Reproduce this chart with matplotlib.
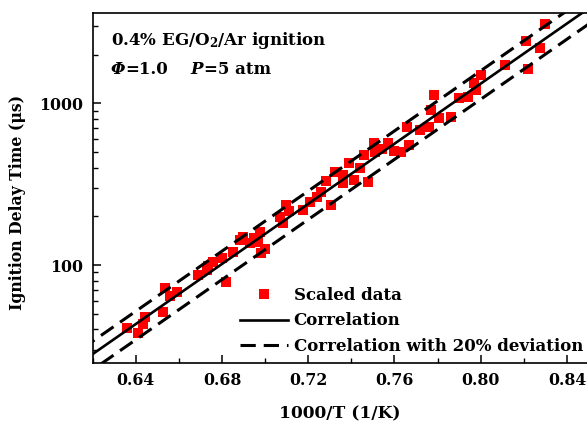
import matplotlib
matplotlib.use("Agg")
import matplotlib.pyplot as plt
import numpy as np
from matplotlib.ticker import FixedLocator, NullFormatter, LogLocator

# ---------------- data ----------------
inv_T = [0.6358, 0.6412, 0.6435, 0.6443, 0.6525, 0.6535, 0.6559, 0.6590,
         0.6690, 0.6728, 0.6736, 0.6760, 0.6798, 0.6820, 0.6851, 0.6882,
         0.6898, 0.6928, 0.6950, 0.6967, 0.6975, 0.6983, 0.7000, 0.7067,
         0.7083, 0.7098, 0.7110, 0.7175, 0.7206, 0.7240, 0.7260, 0.7283,
         0.7306, 0.7322, 0.7360, 0.7360, 0.7391, 0.7414, 0.7440, 0.7460,
         0.7476, 0.7507, 0.7511, 0.7540, 0.7568, 0.7600, 0.7630, 0.7660,
         0.7668, 0.7720, 0.7761, 0.7769, 0.7784, 0.7807, 0.7861, 0.7900,
         0.7940, 0.7969, 0.7977, 0.8000, 0.8113, 0.8209, 0.8220, 0.8274,
         0.8296]
tau_us = [41, 38, 43, 48, 51, 72, 64, 68,
          87, 93, 98, 105, 110, 79, 121, 143,
          150, 136, 146, 139, 161, 118, 125, 199,
          181, 235, 215, 219, 247, 262, 284, 330,
          235, 378, 361, 320, 426, 336, 400, 479,
          327, 566, 501, 520, 566, 504, 501, 716,
          552, 684, 716, 910, 1125, 807, 826, 1074,
          1100, 1330, 1208, 1497, 1727, 2438, 1622, 2188,
          3090]

# correlation line end points (1000/T, tau in us)
corr_x = [0.615, 0.855]
corr_tau = [25.3, 4295.0]
deviation = 0.20

xticks = [0.64, 0.68, 0.72, 0.76, 0.80, 0.84]
xtick_labels = ["0.64", "0.68", "0.72", "0.76", "0.80", "0.84"]
yticks = [100, 1000]
ytick_labels = ["100", "1000"]

# ---------------- style ----------------
FONT = "DejaVu Serif"
plt.rcParams["font.family"] = [FONT, "DejaVu Sans"]
plt.rcParams["font.weight"] = "bold"
plt.rcParams["mathtext.fontset"] = "custom"
plt.rcParams["mathtext.rm"] = FONT + ":bold"
plt.rcParams["mathtext.it"] = FONT + ":italic:bold"
plt.rcParams["mathtext.bf"] = FONT + ":bold"

W, H = 587, 423
fig = plt.figure(figsize=(W / 100, H / 100), dpi=100)
fig.patch.set_facecolor("white")

left, right, top, bottom = 92.7, 588.5, 13.0, 362.7
ax = fig.add_axes([left / W, 1 - bottom / H, (right - left) / W, (bottom - top) / H])
ax.set_yscale("log")
ax.set_xlim(0.62, 0.85)
ax.set_ylim(24.9, 3620)

ax.plot(inv_T, tau_us, linestyle="none", marker="s", markersize=7.4,
        color="#ff0000", markeredgewidth=0, label="Scaled data", zorder=3)

cx = np.array(corr_x)
ct = np.array(corr_tau)
ax.plot(cx, ct, color="black", lw=1.9, label="Correlation", zorder=4)
ax.plot(cx, ct * (1 + deviation), color="black", lw=2.2, dashes=(5, 2.6),
        label="Correlation with 20% deviation", zorder=4)
ax.plot(cx, ct * (1 - deviation), color="black", lw=2.2, dashes=(5, 2.6), zorder=4)

# ticks
ax.xaxis.set_major_locator(FixedLocator(xticks))
ax.set_xticklabels(xtick_labels)
ax.xaxis.set_minor_locator(FixedLocator([0.62, 0.66, 0.70, 0.74, 0.78, 0.82]))
ax.yaxis.set_major_locator(FixedLocator(yticks))
ax.set_yticklabels(ytick_labels)
ax.yaxis.set_minor_locator(LogLocator(base=10, subs=np.arange(2, 10)))
ax.yaxis.set_minor_formatter(NullFormatter())
ax.tick_params(which="major", direction="in", length=6, width=1.1,
               labelsize=11.3, top=False, right=False)
ax.tick_params(axis="x", which="major", pad=7)
ax.tick_params(axis="y", which="major", pad=7)
ax.tick_params(which="minor", direction="in", length=3.5, width=1.0,
               top=False, right=False)
for lab in ax.get_xticklabels() + ax.get_yticklabels():
    lab.set_fontweight("bold")
for s in ax.spines.values():
    s.set_linewidth(1.2)

ax.set_xlabel("1000/T (1/K)", fontsize=12.3, fontweight="bold")
ax.xaxis.set_label_coords((340 - left) / (right - left), -(414 - bottom) / (bottom - top))
ax.xaxis.label.set_va("center")
ax.set_ylabel("Ignition Delay Time (μs)", fontsize=11.3, fontweight="bold")
ax.yaxis.set_label_coords(-(left - 18) / (right - left), (bottom - 202) / (bottom - top))
ax.yaxis.label.set_va("center")

# annotations
ax.text(0.037, 0.921, "0.4% EG/O$_2$/Ar ignition", transform=ax.transAxes,
        fontsize=12, fontweight="bold", va="center", ha="left")
t1 = ax.text(0.037, 0.826, "Φ", transform=ax.transAxes, fontsize=12,
             fontweight="bold", style="italic", va="baseline", ha="left")
t2 = ax.annotate("=1.0", xy=(1, 0), xycoords=t1, va="bottom", ha="left",
                 fontsize=12, fontweight="bold")
t3 = ax.annotate("    P", xy=(1, 0), xycoords=t2, va="bottom", ha="left",
                 fontsize=12, fontweight="bold", style="italic")
t4 = ax.annotate("=5 atm", xy=(1, 0), xycoords=t3, va="bottom", ha="left",
                 fontsize=12, fontweight="bold")

leg = ax.legend(loc="upper left", bbox_to_anchor=(240 / W, 1 - 287 / H),
                bbox_transform=fig.transFigure, frameon=False, fontsize=12,
                handlelength=2.85, handletextpad=0.37, labelspacing=0.5,
                borderpad=0, borderaxespad=0, numpoints=1)
for t in leg.get_texts():
    t.set_fontweight("bold")

fig.savefig("out.png", dpi=100, facecolor="white")
